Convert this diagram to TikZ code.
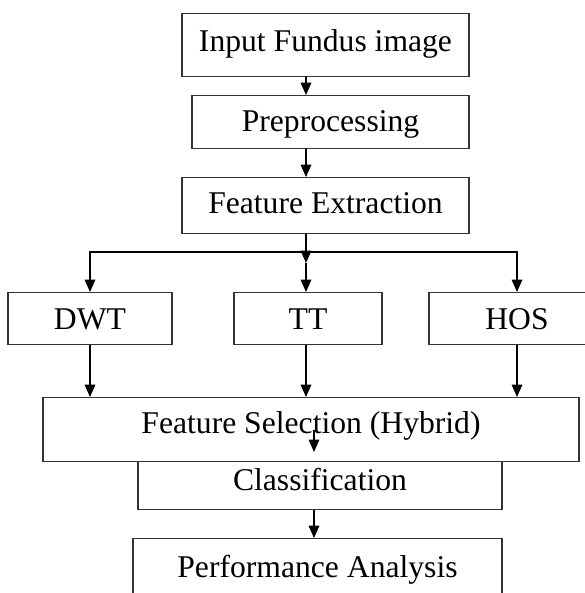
\documentclass[tikz,border=0pt]{standalone}
\usepackage{fontspec}
\setmainfont{Liberation Serif}
\usetikzlibrary{arrows.meta}

\begin{document}
\begin{tikzpicture}
        \tikzstyle{block}=[thick, rectangle, draw=black!80, inner xsep=0pt, inner ysep=0pt, font=\fontsize{18}{22}\selectfont, anchor=north]
        \tikzstyle{flow}=[thick, -{Triangle[width=6pt, length=7pt]}]
        \useasboundingbox (0, 0) rectangle (11.7, -11.86);
        % \draw[draw=black!20] (0, 0) grid (12, -12);
        \coordinate (spine) at (6.12, 0);
        \coordinate (lower) at (6.28, 0);
        \coordinate (branch) at (6.12, -5.04);
        \coordinate (junction) at (6.12, -5.26);

        \node[block, minimum width=5.74cm, text height=0.76cm, text depth=0.5cm] (input) at (6.51, -0.26) {Input Fundus image};
        \node[block, minimum width=5.54cm, text height=0.72cm, text depth=0.34cm] (prep) at (6.61, -1.9) {Preprocessing};
        \node[block, minimum width=5.74cm, text height=0.72cm, text depth=0.4cm] (extract) at (6.51, -3.54) {Feature Extraction};
        \node[block, minimum width=3.28cm, text height=0.74cm, text depth=0.3cm] (dwt) at (1.8, -5.84) {DWT};
        \node[block, minimum width=2.96cm, text height=0.74cm, text depth=0.3cm] (tt) at (6.16, -5.84) {TT};
        \node[block, minimum width=3.52cm, text height=0.74cm, text depth=0.3cm, text width=3.26cm, align=center, xshift=-0.13cm] (hos) at (10.47, -5.84) {HOS};
        \node[block, minimum width=10.72cm, text height=0.72cm, text depth=0.56cm] (selection) at (6.22, -7.94) {Feature Selection (Hybrid)};
        \node[block, minimum width=7.28cm, text height=0.58cm, text depth=0.38cm] (classification) at (6.4, -9.22) {Classification};
        \node[block, minimum width=7.38cm, text height=0.78cm, text depth=0.4cm] (performance) at (6.35, -10.76) {Performance Analysis};

        \draw[flow] (input.south -| spine) -- (prep.north -| spine);
        \draw[flow] (prep.south -| spine) -- (extract.north -| spine);
        \draw[flow] (extract.south -| spine) -- (junction);
        \draw[flow] (junction) -- (tt.north -| spine);
        \draw[flow] (branch) -| (dwt.north);
        \draw[flow] (branch) -| (hos.north);

        \draw[flow] (dwt.south) -- (dwt.south |- selection.north);
        \draw[flow] (tt.south -| spine) -- (selection.north -| spine);
        \draw[flow] (hos.south) -- (hos.south |- selection.north);

        \draw[flow] (selection.center -| lower) -- ([yshift=0.18cm]classification.north -| lower);
        \draw[flow] (classification.south -| lower) -- (performance.north -| lower);
    \end{tikzpicture}
\end{document}
